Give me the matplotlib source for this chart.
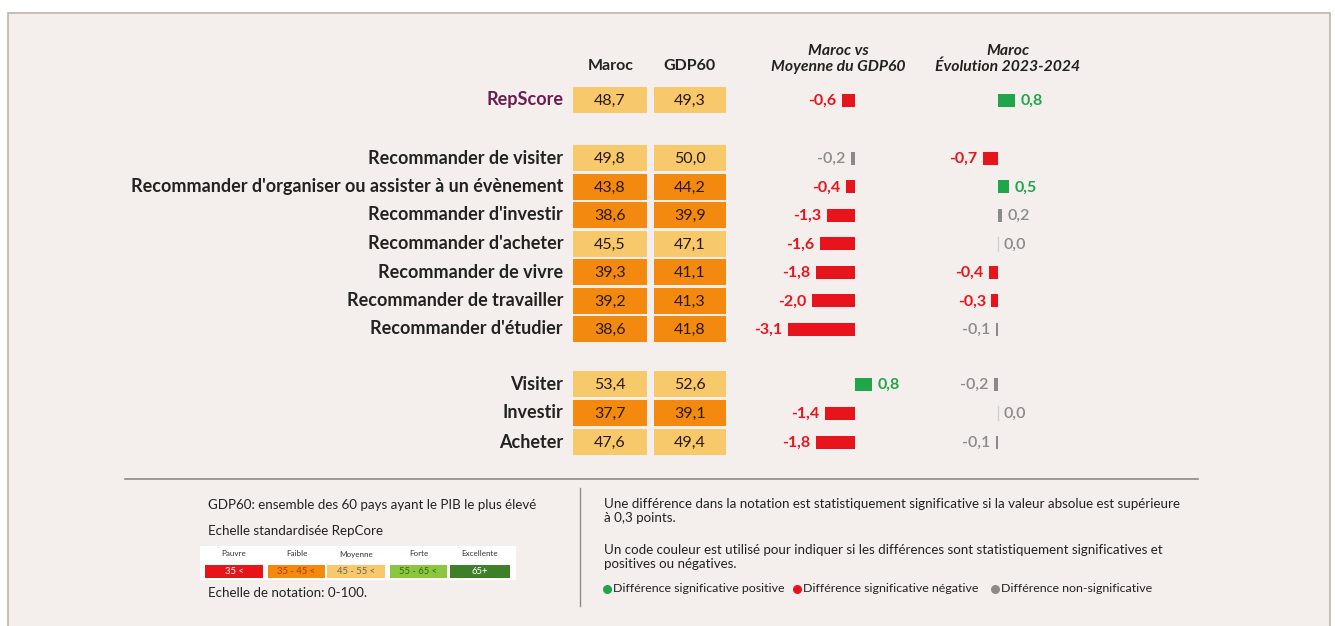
import matplotlib
matplotlib.use("Agg")
import matplotlib.pyplot as plt
from matplotlib.patches import Rectangle

plt.rcParams['font.family'] = ['Lato', 'DejaVu Sans']

# ---------------- data ----------------
labels = ["RepScore",
          "Recommander de visiter",
          "Recommander d'organiser ou assister à un évènement",
          "Recommander d'investir",
          "Recommander d'acheter",
          "Recommander de vivre",
          "Recommander de travailler",
          "Recommander d'étudier",
          "Visiter", "Investir", "Acheter"]
maroc = [48.7, 49.8, 43.8, 38.6, 45.5, 39.3, 39.2, 38.6, 53.4, 37.7, 47.6]
gdp60 = [49.3, 50.0, 44.2, 39.9, 47.1, 41.1, 41.3, 41.8, 52.6, 39.1, 49.4]
diff_gdp60 = [-0.6, -0.2, -0.4, -1.3, -1.6, -1.8, -2.0, -3.1, 0.8, -1.4, -1.8]
evol_2324 = [0.8, -0.7, 0.5, 0.2, 0.0, -0.4, -0.3, -0.1, -0.2, 0.0, -0.1]

col_headers = ["Maroc", "GDP60"]
diff_headers = ["Maroc vs\nMoyenne du GDP60", "Maroc\nÉvolution 2023-2024"]

scale_names = ["Pauvre", "Faible", "Moyenne", "Forte", "Excellente"]
scale_ranges = ["35 <", "35 - 45 <", "45 - 55 <", "55 - 65 <", "65+"]
scale_colors = ["#e8141c", "#f4890f", "#f7c96a", "#8cc63f", "#3f7f2a"]
scale_text_colors = ["white", "#a04000", "#666666", "#2f6a10", "white"]

legend_items = ["Différence significative positive",
                "Différence significative négative",
                "Différence non-significative"]

# ---------------- layout ----------------
W, H = 1335, 626
row_y = [100, 158, 186.5, 215, 243.5, 272, 300.5, 329, 384, 413, 442]

fig = plt.figure(figsize=(W / 100, H / 100), dpi=100)
fig.patch.set_facecolor("white")

ax = fig.add_axes([0, 0, 1, 1])
ax.set_xlim(0, W)
ax.set_ylim(H, 0)
ax.axis("off")

# frame / background
ax.add_patch(Rectangle((8, 13), 1322, 640, facecolor="#f4efec",
                       edgecolor="#bdb5a6", linewidth=1.2, zorder=0))

DARK = "#222222"
RED = "#e8141c"
GREEN = "#1fa64a"
GRAY = "#8a8a8a"


def cell_color(v):
    if v < 35:
        return scale_colors[0]
    if v < 45:
        return scale_colors[1]
    if v < 55:
        return scale_colors[2]
    if v < 65:
        return scale_colors[3]
    return scale_colors[4]


# headers
ax.text(611, 66, col_headers[0], ha="center", va="center", fontsize=11.5,
        fontweight="bold", color=DARK)
ax.text(689, 66, col_headers[1], ha="center", va="center", fontsize=11.5,
        fontweight="bold", color=DARK)
ax.text(838, 59, diff_headers[0], ha="center", va="center", fontsize=11.3,
        fontweight="bold", style="italic", color=DARK, linespacing=1.15)
ax.text(1008, 59, diff_headers[1], ha="center", va="center", fontsize=11.3,
        fontweight="bold", style="italic", color=DARK, linespacing=1.15)

# row labels
for i, (lab, y) in enumerate(zip(labels, row_y)):
    ax.text(563, y, lab, ha="right", va="center", fontsize=13.0,
            fontweight="bold", color="#6b1d4f" if i == 0 else DARK)

# value cells
cell_h = 26
ax.barh(row_y, 74, left=573, height=cell_h,
        color=[cell_color(v) for v in maroc], zorder=2)
ax.barh(row_y, 72, left=654, height=cell_h,
        color=[cell_color(v) for v in gdp60], zorder=2)
for y, m, g in zip(row_y, maroc, gdp60):
    ax.text(610, y + 1, f"{m:.1f}".replace(".", ","), ha="center",
            va="center", fontsize=11.5, color="#2a1a0a", zorder=3)
    ax.text(690, y + 1, f"{g:.1f}".replace(".", ","), ha="center",
            va="center", fontsize=11.5, color="#2a1a0a", zorder=3)


def sig_color(v):
    if abs(v) >= 0.25:
        return GREEN if v > 0 else RED
    return GRAY


PX_PER_UNIT = 21.7


def diff_axes(zero_px, values):
    left_px, right_px = zero_px - 160, zero_px + 110
    a = fig.add_axes([left_px / W, 0, (right_px - left_px) / W, 1])
    a.set_xlim((left_px - zero_px) / PX_PER_UNIT,
               (right_px - zero_px) / PX_PER_UNIT)
    a.set_ylim(H, 0)
    a.axis("off")
    a.patch.set_alpha(0)
    cols = [sig_color(v) for v in values]
    a.barh(row_y, values, height=13, color=cols, linewidth=0, zorder=2)
    for y, v, c in zip(row_y, values, cols):
        if v == 0:
            a.plot([0, 0], [y - 7, y + 7], color="#d0d0d0", lw=1.0)
        txt = f"{v:.1f}".replace(".", ",")
        weight = "bold" if c != GRAY else "semibold"
        if v < 0:
            a.annotate(txt, (v, y + 1), xytext=(-4, 0),
                       textcoords="offset points", ha="right", va="center",
                       fontsize=11.5, fontweight=weight, color=c)
        else:
            a.annotate(txt, (v, y + 1), xytext=(4, 0),
                       textcoords="offset points", ha="left", va="center",
                       fontsize=11.5, fontweight=weight, color=c)
    return a


diff_axes(855, diff_gdp60)
diff_axes(998, evol_2324)

# separators
ax.plot([125, 1198], [479, 479], color="#8f8a84", lw=1.2)
ax.plot([580, 580], [488, 606], color="#8f8a84", lw=1.0)

# bottom-left notes
FS = 9.6
ax.text(208, 505, "GDP60: ensemble des 60 pays ayant le PIB le plus élevé",
        ha="left", va="center", fontsize=FS, color=DARK)
ax.text(208, 531, "Echelle standardisée RepCore", ha="left", va="center",
        fontsize=FS, color=DARK)
ax.add_patch(Rectangle((200, 546), 316, 34, facecolor="white",
                       edgecolor="none", zorder=1))
box_x = [205, 268, 327, 390, 450]
box_w = [58, 57, 58, 57, 60]
for x, w, n, r, c, tc in zip(box_x, box_w, scale_names, scale_ranges,
                             scale_colors, scale_text_colors):
    ax.add_patch(Rectangle((x, 565), w, 13, facecolor=c, edgecolor="none",
                           zorder=2))
    ax.text(x + w / 2, 554, n, ha="center", va="center", fontsize=5.8,
            color="#333333", zorder=3)
    ax.text(x + w / 2, 571.5, r, ha="center", va="center", fontsize=6.8,
            color=tc, zorder=3)
ax.text(208, 593, "Echelle de notation: 0-100.", ha="left", va="center",
        fontsize=FS, color=DARK)

# bottom-right notes
ax.text(604, 504, "Une différence dans la notation est statistiquement "
        "significative si la valeur absolue est supérieure",
        ha="left", va="center", fontsize=FS, color=DARK)
ax.text(604, 518, "à 0,3 points.", ha="left", va="center", fontsize=FS,
        color=DARK)
ax.text(604, 550, "Un code couleur est utilisé pour indiquer si les "
        "différences sont statistiquement significatives et",
        ha="left", va="center", fontsize=FS, color=DARK)
ax.text(604, 564, "positives ou négatives.", ha="left", va="center",
        fontsize=FS, color=DARK)
for x, t, c in zip([607, 797, 995], legend_items, [GREEN, RED, GRAY]):
    ax.scatter([x], [589], s=30, color=c, zorder=3)
    ax.text(x + 6, 589, t, ha="left", va="center", fontsize=8.9, color=DARK)

fig.savefig("out.png", dpi=100, facecolor="white")
